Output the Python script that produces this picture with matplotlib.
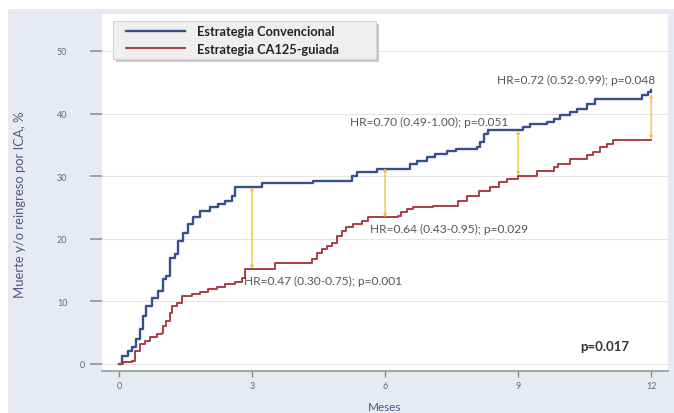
import numpy as np
import matplotlib
matplotlib.use("Agg")
import matplotlib.pyplot as plt
from matplotlib.patches import Rectangle
from matplotlib.transforms import ScaledTranslation

plt.rcParams['font.family'] = ['Lato', 'DejaVu Sans']

# curvas de incidencia acumulada (meses, %)
t_conv = [0, 0.06, 0.2, 0.3, 0.38, 0.47, 0.55, 0.62, 0.74, 0.89, 1.0, 1.07, 1.15, 1.26,
          1.34, 1.45, 1.56, 1.68, 1.83, 2.05, 2.24, 2.39, 2.54, 2.62, 3.22, 4.38, 5.25,
          5.36, 5.81, 6.56, 6.71, 6.94, 7.13, 7.39, 7.61, 8.07, 8.14, 8.22, 8.33, 9.12,
          9.27, 9.65, 9.80, 9.95, 10.17, 10.32, 10.55, 10.74, 11.79, 11.94, 12.0]
v_conv = [0, 1.3, 2.0, 2.7, 4.0, 5.6, 7.7, 9.3, 10.6, 11.7, 13.6, 14.1, 17.0, 17.6,
          19.7, 21.0, 22.4, 23.4, 24.5, 25.0, 25.6, 26.1, 26.9, 28.3, 28.9, 29.3, 30.1,
          30.7, 31.2, 32.0, 32.5, 33.0, 33.5, 34.0, 34.3, 34.6, 35.4, 36.7, 37.3, 37.8,
          38.3, 38.6, 39.1, 39.7, 40.2, 40.7, 41.5, 42.3, 42.9, 43.4, 43.8]

t_ca125 = [0, 0.1, 0.29, 0.36, 0.47, 0.59, 0.7, 0.85, 0.96, 1.0, 1.07, 1.15, 1.19, 1.30,
           1.41, 1.64, 1.83, 2.01, 2.2, 2.39, 2.62, 2.77, 2.84, 3.52, 4.35, 4.46, 4.57,
           4.68, 4.80, 4.91, 5.02, 5.13, 5.28, 5.47, 5.62, 6.30, 6.37, 6.49, 6.64, 7.09,
           7.65, 7.84, 8.11, 8.37, 8.56, 8.74, 9.0, 9.42, 9.80, 9.91, 10.17, 10.55, 10.70,
           10.85, 11.0, 11.15, 12.0]
v_ca125 = [0, 0.3, 0.5, 2.1, 3.2, 3.7, 4.3, 4.8, 5.0, 6.1, 6.9, 8.2, 9.3, 9.8,
           10.9, 11.2, 11.5, 12.0, 12.3, 12.8, 13.1, 13.8, 15.2, 16.2, 16.8, 17.8, 18.4,
           18.9, 19.4, 20.5, 21.3, 21.8, 22.4, 22.9, 23.4, 23.7, 24.2, 24.7, 25.0, 25.3,
           26.1, 26.9, 27.7, 28.2, 29.0, 29.5, 30.1, 30.9, 31.4, 32.0, 32.7, 33.3, 33.8,
           34.6, 35.1, 35.7, 35.7]

# flechas HR
hr_t = [3, 6, 9, 12]
hr_top = [28.3, 31.3, 37.3, 43.1]
hr_bot = [15.2, 23.4, 30.1, 35.9]
hr_txt = ["HR=0.47 (0.30-0.75); p=0.001", "HR=0.64 (0.43-0.95); p=0.029",
          "HR=0.70 (0.49-1.00); p=0.051", "HR=0.72 (0.52-0.99); p=0.048"]
hr_txt_xy = [(2.82, 13.3), (5.66, 21.6), (5.21, 38.8), (8.53, 45.5)]

x_ticks = [0, 3, 6, 9, 12]
y_ticks = [0, 10, 20, 30, 40, 50]

BLUE = "#34508f"
RED = "#ab3d44"
YEL = "#f2c23a"

fig = plt.figure(figsize=(6.74, 4.14), dpi=100, facecolor="white")
bg = Rectangle((8/674, 0), 1, 1 - 10/414, transform=fig.transFigure,
               facecolor="#e7eaf2", edgecolor="none")
bg.set_zorder(-10)
fig.add_artist(bg)
ax = fig.add_axes([102/674, 1 - 372/414, 566/674, 357/414])
ax.set_facecolor("white")

ax.step(t_conv, v_conv, where="post", color=BLUE, lw=1.7, zorder=3)
ax.step(t_ca125, v_ca125, where="post", color=RED, lw=1.4, zorder=3)

for t, a, b in zip(hr_t, hr_top, hr_bot):
    ax.annotate("", xy=(t, b), xytext=(t, a),
                arrowprops=dict(arrowstyle="<|-|>", color=YEL, lw=1.0,
                                mutation_scale=4, shrinkA=0, shrinkB=0), zorder=4)
for s, (x, y) in zip(hr_txt, hr_txt_xy):
    ax.text(x, y, s, fontsize=8.6, color="#555555", va="center", ha="left", zorder=5)

ax.text(10.4, 2.9, "p=0.017", fontsize=9.5, fontweight="bold", color="#333333",
        va="center", ha="left")

ax.set_xlim(-0.383, 12.38)
ax.set_ylim(-1.12, 55.9)
ax.set_xticks(x_ticks)
ax.set_yticks(y_ticks)
ax.grid(axis="y", color="#e4e4e4", lw=0.8)
ax.set_axisbelow(True)
for s in ["left", "top", "right"]:
    ax.spines[s].set_visible(False)
ax.spines["bottom"].set_color("#a0a0a0")
ax.spines["bottom"].set_linewidth(1.3)
ax.tick_params(axis="x", length=4, width=1, color="#888888", labelsize=6.5,
               labelcolor="#6a6a6a", pad=3)
ax.tick_params(axis="y", length=9, width=1.3, color="#999999", labelsize=6.5,
               labelcolor="#6a6a6a", pad=16)
# el "0" del eje y aparece más a la derecha
ax.get_yticklabels()[0].set_transform(
    ax.get_yticklabels()[0].get_transform() + ScaledTranslation(18/100, 0, fig.dpi_scale_trans))

ax.set_ylabel("Muerte y/o reingreso por ICA, %", fontsize=9.4, color="#4d5b7c")
ax.yaxis.set_label_coords(-0.134, 0.468)
ax.set_xlabel("Meses", fontsize=8.5, color="#4d5b7c")
ax.xaxis.set_label_coords(0.5, -0.085)

# cuadro de leyenda
ax.add_patch(Rectangle((0.025, 0.866), 0.465, 0.106, transform=ax.transAxes,
                       facecolor="#c8c8c8", edgecolor="none", zorder=5, clip_on=False))
ax.add_patch(Rectangle((0.0194, 0.874), 0.465, 0.106, transform=ax.transAxes,
                       facecolor="#efefef", edgecolor="#d2d2d2", lw=0.8, zorder=6,
                       clip_on=False))
h1, = ax.plot([], [], color=BLUE, lw=1.7)
h2, = ax.plot([], [], color=RED, lw=1.4)
leg = ax.legend([h1, h2], ["Estrategia Convencional", "Estrategia CA125-guiada"],
                loc="upper left", bbox_to_anchor=(0.042, 0.968), frameon=False,
                borderpad=0, borderaxespad=0, handlelength=4.6, handletextpad=1.0,
                labelspacing=0.42, prop=dict(size=9.2, weight="bold"))
leg.set_zorder(7)
for tx in leg.get_texts():
    tx.set_color("#222222")

fig.savefig("out.png", dpi=100, facecolor=fig.get_facecolor())
